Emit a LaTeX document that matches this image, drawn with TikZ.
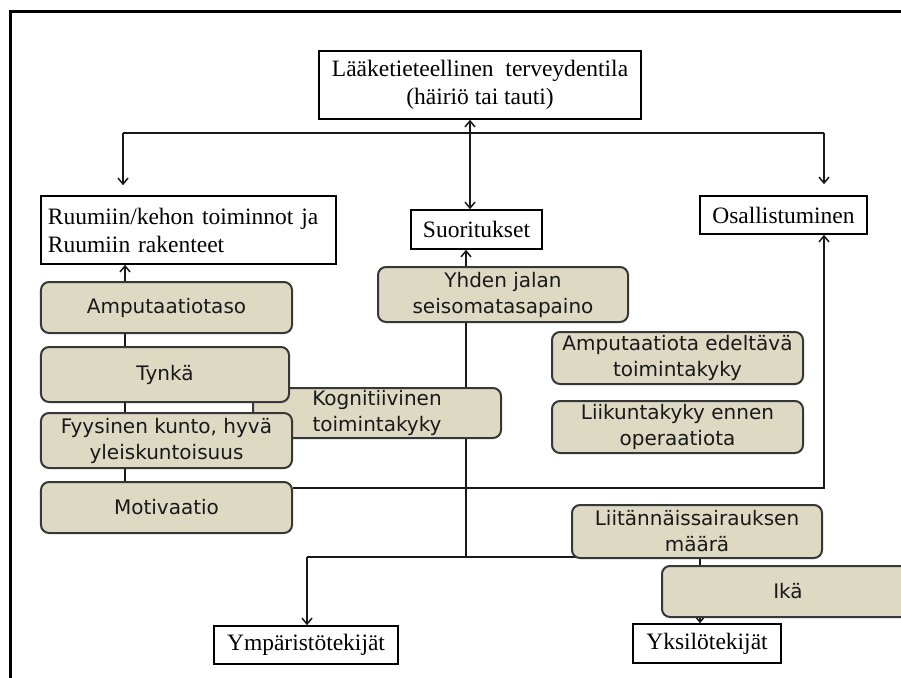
\documentclass[tikz,border=0pt]{standalone}
\usepackage{fontspec}
\setmainfont{Liberation Serif}
\newfontfamily\tanfont{DejaVu Sans}
\usetikzlibrary{arrows.meta,backgrounds}
\definecolor{tanfill}{RGB}{221,217,195}
\definecolor{tanborder}{RGB}{55,55,55}
\begin{document}
\begin{tikzpicture}[x=1bp,y=-1bp,
  wbox/.style={draw=black, line width=1.5bp, fill=white, inner sep=0pt,
    font=\fontsize{23.5bp}{28bp}\selectfont, align=center},
  tbox/.style={draw=tanborder, line width=2bp, fill=tanfill, rounded corners=8bp,
    inner sep=0pt, font=\tanfont\fontsize{20bp}{26bp}\selectfont, align=center, text=black!90},
  conn/.style={line width=1.5bp, draw=black!90},
  tip/.tip={Straight Barb[length=6bp,width=10bp]},
  arr/.style={conn, -tip},
  arrboth/.style={conn, tip-tip},
  ]
\useasboundingbox (0,0) rectangle (901,678);
% outer frame (cut at right and bottom)
\draw[line width=3bp] (10,690) -- (10,12) -- (910,12);

% white boxes
\node[wbox, minimum width=322bp, minimum height=68bp] (top) at (480,85)
  {Lääketieteellinen\ \ terveydentila\\(häiriö tai tauti)};
\node[wbox, minimum width=295bp, minimum height=68bp, text width=281bp, align=left] (ruum) at (188.5,230)
  {Ruumiin/kehon toiminnot ja\\Ruumiin rakenteet};
\node[wbox, minimum width=131bp, minimum height=39bp] (suor) at (476.5,229.5) {Suoritukset};
\node[wbox, minimum width=167bp, minimum height=38bp] (osal) at (783.5,215) {Osallistuminen};
\node[wbox, minimum width=184bp, minimum height=38bp] (ymp) at (306,645) {Ympäristötekijät};
\node[wbox, minimum width=148bp, minimum height=39bp] (yks) at (707,643.5) {Yksilötekijät};

% tan boxes
\node[tbox, minimum width=251bp, minimum height=51bp] (amp) at (166.5,307.5) {Amputaatiotaso};
\node[tbox, minimum width=250bp, minimum height=55bp] (yhd) at (503,294.5) {Yhden jalan\\seisomatasapaino};
\node[tbox, minimum width=248bp, minimum height=50bp] (kog) at (377,413) {Kognitiivinen\\toimintakyky};
\node[tbox, minimum width=248bp, minimum height=55bp] (tyn) at (165,374.5) {Tynkä};
\node[tbox, minimum width=251bp, minimum height=55bp] (fyy) at (166.5,440.5) {Fyysinen kunto, hyvä\\yleiskuntoisuus};
\node[tbox, minimum width=251bp, minimum height=51bp] (mot) at (166.5,507.5) {Motivaatio};
\node[tbox, minimum width=251bp, minimum height=52bp] (ampe) at (677.5,358) {Amputaatiota edeltävä\\toimintakyky};
\node[tbox, minimum width=251bp, minimum height=52bp] (liik) at (677.5,427) {Liikuntakyky ennen\\operaatiota};
\node[tbox, minimum width=250bp, minimum height=53bp] (liit) at (697,531.5) {Liitännäissairauksen\\määrä};
\node[tbox, minimum width=252bp, minimum height=51bp] (ika) at (788,591.5) {Ikä};

% connector coordinates
\coordinate (cm) at (470,0);
\coordinate (hl) at (123,133);
\coordinate (hr) at (824,133);
\coordinate (vx) at (466,0);
\coordinate (ax) at (125,0);
\coordinate (mo) at (824,488);
\coordinate (bj) at (466,557);
\coordinate (bl) at (307,557);
\coordinate (br) at (578,557);
\coordinate (ix) at (700,0);

\begin{scope}[on background layer]
  \draw[arrboth] (top.south -| cm) -- (suor.north -| cm);
  \draw[conn] (hl) -- (hr);
  \draw[arr, shorten >=10bp] (hl) -- (ruum.north -| hl);
  \draw[arr, shorten >=11bp] (hr) -- (osal.north -| hr);
  \draw[arr] (amp.north -| ax) -- (ruum.south -| ax);
  \draw[conn] (amp.south -| ax) -- (tyn.north -| ax);
  \draw[conn] (tyn.south -| ax) -- (fyy.north -| ax);
  \draw[conn] (fyy.south -| ax) -- (mot.north -| ax);
  \draw[arr] (yhd.north -| vx) -- (suor.south -| vx);
  \draw[conn] (yhd.south -| vx) -- (bj);
  \draw[conn] (bl) -- (bj) -- (br);
  \draw[arr] (bl) -- (ymp.north -| bl);
  \draw[conn] (liit.south -| ix) -- (ika.north -| ix);
  \draw[arr] (ika.south -| ix) -- (yks.north -| ix);
  \draw[arr] (mot.east |- mo) -- (mo) -- (osal.south -| mo);
\end{scope}
\end{tikzpicture}
\end{document}
